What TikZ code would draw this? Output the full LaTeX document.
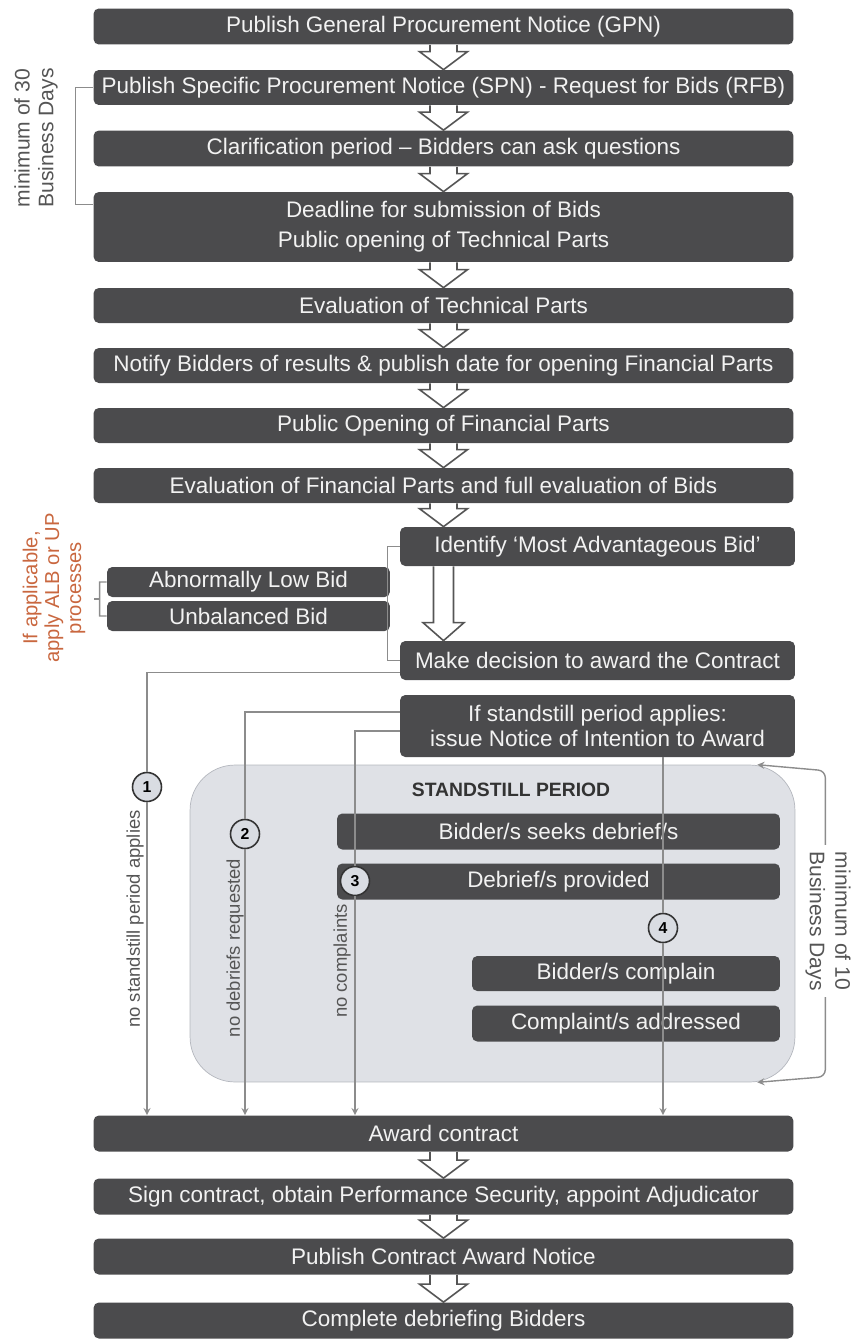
\documentclass[tikz,border=0pt]{standalone}
\usepackage{fontspec}
\setmainfont{Liberation Sans}
\usetikzlibrary{calc}
\definecolor{boxgray}{HTML}{4B4B4D}
\definecolor{boxtext}{HTML}{F2F2F2}
\definecolor{linegray}{HTML}{8C8C8C}
\definecolor{regiongray}{HTML}{DFE1E6}
\definecolor{regionline}{HTML}{B4B7BE}
\definecolor{notegray}{HTML}{555555}
\definecolor{noteorange}{HTML}{C9673F}
\definecolor{numfill}{HTML}{D9DCE2}

% hollow block arrow between two boxes, on the main axis
\newcommand{\flowarrow}[3][0.27cm]{%
  \draw[flow] let \p1=(#2.south -| axis), \p2=(#3.north -| axis) in
    (\x1-#1,\y1) -- (\x1-#1,\y2+0.36cm) -- (\x1-#1-0.21cm,\y2+0.36cm)
    -- (\x1,\y2) -- (\x1+#1+0.21cm,\y2+0.36cm) -- (\x1+#1,\y2+0.36cm)
    -- (\x1+#1,\y1);}

\begin{document}
\begin{tikzpicture}[x=0.02cm, y=-0.02cm, >=stealth,
  box/.style = {fill=boxgray, text=boxtext, rounded corners=3pt, inner sep=0pt,
    minimum height=0.72cm, align=center, font=\fontsize{12.8}{17}\selectfont},
  wide/.style = {box, minimum width=14cm},
  half/.style = {box, minimum width=7.9cm},
  region/.style = {draw=regionline, fill=regiongray, rounded corners=0.9cm,
    minimum width=12.1cm, minimum height=6.34cm},
  flow/.style = {draw=notegray, fill=white, line width=0.9pt, line join=miter},
  link/.style = {draw=linegray, line width=0.8pt},
  num/.style = {circle, draw=black!80, fill=numfill, line width=0.9pt,
    minimum size=0.58cm, inner sep=0pt, font=\bfseries\fontsize{9}{9}\selectfont},
  note/.style = {text=notegray, align=center},
  tag/.style = {text=notegray, font=\fontsize{10.5}{12}\selectfont}]
\useasboundingbox (0,0) rectangle (854,1342);
\coordinate (axis) at (443.5,0);

% standstill area
\node [region] (ssp) at (492.5,923.5) {};
\node [font=\bfseries\fontsize{11}{13}\selectfont, text=black!80] (sstitle) at (511,790) {STANDSTILL PERIOD};

% main column
\node [wide] (gpn) at (443.5,26.5) {Publish General Procurement Notice (GPN)};
\node [wide, minimum height=0.7cm] (spn) at (443.5,87.5) {Publish Specific Procurement Notice (SPN) - Request for Bids (RFB)};
\node [wide] (clar) at (443.5,148.5) {Clarification period -- Bidders can ask questions};
\node [wide, minimum height=1.4cm] (dead) at (443.5,227) {Deadline for submission of Bids\\Public opening of Technical Parts};
\node [wide, minimum height=0.7cm] (evtech) at (443.5,305.5) {Evaluation of Technical Parts};
\node [wide, minimum height=0.7cm] (notify) at (443.5,365.5) {Notify Bidders of results \& publish date for opening Financial Parts};
\node [wide, minimum height=0.7cm] (openfin) at (443.5,425.5) {Public Opening of Financial Parts};
\node [wide, minimum height=0.7cm] (evfin) at (443.5,485.5) {Evaluation of Financial Parts and full evaluation of Bids};
\node [half, minimum height=0.78cm] (mab) at (597.5,546.5) {Identify `Most Advantageous Bid'};
\node [box, minimum width=5.66cm, minimum height=0.6cm] (alb) at (248.5,582) {Abnormally Low Bid};
\node [box, minimum width=5.66cm, minimum height=0.6cm] (ub) at (248.5,616) {Unbalanced Bid};
\node [half, minimum height=0.78cm] (decide) at (597.5,660.5) {Make decision to award the Contract};
\node [half, minimum height=1.24cm, font=\fontsize{12.8}{14}\selectfont] (notice) at (597.5,726) {If standstill period applies:\\issue Notice of Intention to Award};
\node [box, minimum width=8.86cm] (seek) at (558.5,831.5) {Bidder/s seeks debrief/s};
\node [box, minimum width=8.86cm] (given) at (558.5,881.5) {Debrief/s provided};
\node [box, minimum width=6.16cm, minimum height=0.7cm] (complain) at (626,973.5) {Bidder/s complain};
\node [box, minimum width=6.16cm] (handled) at (626,1023.5) {Complaint/s addressed};
\node [wide] (award) at (443.5,1133.5) {Award contract};
\node [wide] (sign) at (443.5,1196.5) {Sign contract, obtain Performance Security, appoint Adjudicator};
\node [wide] (can) at (443.5,1256.5) {Publish Contract Award Notice};
\node [wide] (debrief) at (443.5,1320.5) {Complete debriefing Bidders};

\flowarrow{gpn}{spn}
\flowarrow{spn}{clar}
\flowarrow{clar}{dead}
\flowarrow{dead}{evtech}
\flowarrow{evtech}{notify}
\flowarrow{notify}{openfin}
\flowarrow{openfin}{evfin}
\flowarrow{evfin}{mab}
\flowarrow[0.2cm]{mab}{decide}
\flowarrow{award}{sign}
\flowarrow{sign}{can}
\flowarrow{can}{debrief}

% brackets
\draw [link] (spn.west) -- ++(-18,0) |- ([yshift=-0.26cm]dead.north west);
\node [note, rotate=90, font=\fontsize{12}{13.5}\selectfont] (days30) at (36,138) {minimum of 30\\Business Days};
\draw [link] (mab.west) -- ++(-12,0) |- (decide.west);
\draw [link] (alb.west) -- ++(-7,0) -- ([xshift=-0.14cm]ub.west) -- (ub.west);
\draw [link] ($(alb.west)!0.5!(ub.west)+(-7,0)$) -- ++(-6,0);
\node [note, text=noteorange, rotate=90, font=\fontsize{11.5}{12.5}\selectfont] (albnote) at (54,588) {If applicable,\\apply ALB or UP\\processes};

% routes to award
\node [num] (n1) at (147,787) {1};
\node [num] (n2) at (245,834) {2};
\node [num] (n3) at (355,881) {3};
\node [num] (n4) at (663,928) {4};
\draw [link] ([yshift=-0.24cm]decide.west) -| (n1);
\draw [link, ->] (n1) -- (n1 |- award.north);
\draw [link] ([yshift=0.28cm]notice.west) -| (n2);
\draw [link, ->] (n2) -- (n2 |- award.north);
\draw [link] ([yshift=-0.1cm]notice.west) -| (n3);
\draw [link, ->] (n3) -- (n3 |- award.north);
\draw [link] (notice.south -| n4) -- (n4);
\draw [link, ->] (n4) -- (n4 |- award.north);
\node [tag, rotate=90] (t1) at (135,919) {no standstill period applies};
\node [tag, rotate=90] (t2) at (235,948) {no debriefs requested};
\node [tag, rotate=90] (t3) at (342,961) {no complaints};

% standstill length
\coordinate (sstop) at ([xshift=-0.76cm]ssp.north east);
\coordinate (ssbot) at ([xshift=-0.76cm]ssp.south east);
\draw [link, <->, rounded corners=4pt] (sstop) -- ++(68,6) -- ++(0,306) -- (ssbot);
\node [note, fill=white, rotate=-90, font=\fontsize{12}{14.5}\selectfont] (days10) at (828,921) {minimum of 10\\Business Days};
\end{tikzpicture}
\end{document}
